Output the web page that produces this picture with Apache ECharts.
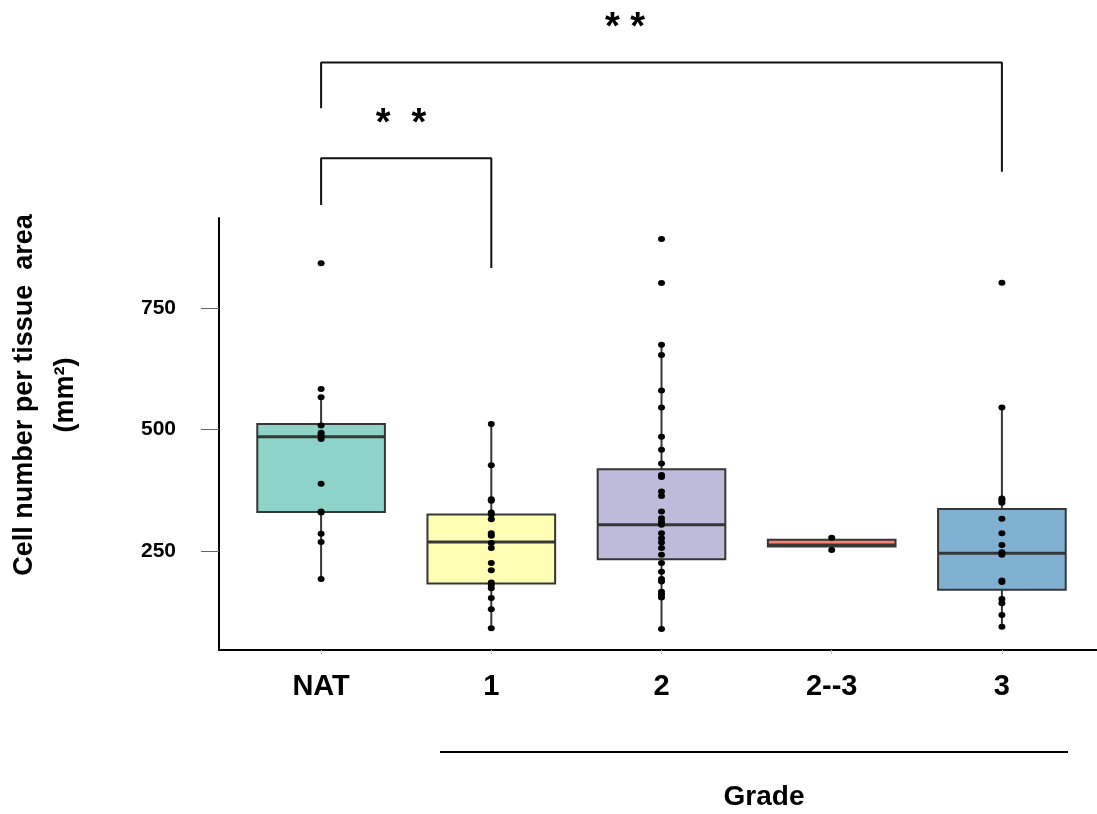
<!DOCTYPE html>
<html>
<head>
<meta charset="utf-8">
<script src="https://cdn.jsdelivr.net/npm/echarts@6/dist/echarts.min.js"></script>
<style>
  html, body { margin: 0; padding: 0; background: #fff; }
  #chart { width: 1097px; height: 814px; }
</style>
</head>
<body>
<div id="chart"></div>
<script>
// categories on the x axis
var categories = ["NAT", "1", "2", "2--3", "3"];

// box statistics
var whiskerLow = [192, 91, 89, 252, 94];
var q1 = [330, 183, 233, 259, 170];
var median = [485, 268, 304, 262, 245];
var q3 = [511, 325, 418, 273, 336];
var whiskerHigh = [567, 511, 674, 277, 545];

// single observations (dots)
var natPoints = [842, 583, 566, 508, 493, 489, 485, 480, 388, 331, 329, 285, 268, 192];
var grade1Points = [511, 426, 356, 353, 329, 325, 315, 286, 281, 266, 256, 225, 210, 185, 180, 173, 153, 130, 91];
var grade2Points = [892, 801, 674, 653, 580, 545, 485, 458, 430, 406, 402, 372, 363, 331, 317, 310, 304, 286, 276, 267, 256, 242, 225, 207, 192, 187, 166, 160, 154, 89];
var grade23Points = [277, 252];
var grade3Points = [802, 545, 358, 354, 349, 316, 286, 262, 247, 242, 189, 186, 151, 142, 118, 94];

// y axis ticks
var yTicks = [250, 500, 750];

// significance brackets: [category index, value]
var bracketInner = [[0, 962], [0, 1058], [1, 1058], [1, 832]];
var bracketOuter = [[0, 1161], [0, 1255], [4, 1255], [4, 1030]];

var boxColors = ["#8DD3C7", "#FFFFB3", "#BEBADA", "#FB8072", "#80B1D3"];
var FONT = "Liberation Sans, Arial, sans-serif";

var boxData = categories.map(function (c, i) {
  return [i, whiskerLow[i], q1[i], median[i], q3[i], whiskerHigh[i]];
});

var allPoints = [natPoints, grade1Points, grade2Points, grade23Points, grade3Points];
var dotData = [];
allPoints.forEach(function (arr, i) {
  arr.forEach(function (v) {
    dotData.push([i, v]);
  });
});

function renderBox(params, api) {
  var x = api.value(0);
  var lo = api.coord([x, api.value(1)]);
  var b1 = api.coord([x, api.value(2)]);
  var med = api.coord([x, api.value(3)]);
  var b3 = api.coord([x, api.value(4)]);
  var hi = api.coord([x, api.value(5)]);
  var half = api.size([1, 0])[0] * 0.375;
  var stroke = "#363636";
  return {
    type: "group",
    children: [
      { type: "line", shape: { x1: lo[0], y1: lo[1], x2: b1[0], y2: b1[1] }, style: { stroke: stroke, lineWidth: 2 } },
      { type: "line", shape: { x1: b3[0], y1: b3[1], x2: hi[0], y2: hi[1] }, style: { stroke: stroke, lineWidth: 2 } },
      {
        type: "rect",
        shape: { x: b3[0] - half, y: b3[1], width: half * 2, height: b1[1] - b3[1] },
        style: { fill: boxColors[params.dataIndex], stroke: stroke, lineWidth: 2 }
      },
      { type: "line", shape: { x1: med[0] - half, y1: med[1], x2: med[0] + half, y2: med[1] }, style: { stroke: stroke, lineWidth: 3 } }
    ]
  };
}

var chart = echarts.init(document.getElementById("chart"));

var option = {
  animation: false,
  backgroundColor: "#fff",
  grid: [
    { left: 236, right: 10, top: 218, bottom: 164 },
    { left: 219, right: 0, top: 218, bottom: 164 }
  ],
  xAxis: [
    {
      type: "category",
      gridIndex: 0,
      data: categories,
      boundaryGap: true,
      axisLine: { show: false },
      axisTick: { show: true, alignWithLabel: true, length: 4, lineStyle: { color: "#bbb" } },
      axisLabel: { margin: 22, color: "#000", fontSize: 29, fontWeight: "bold", fontFamily: FONT },
      splitLine: { show: false }
    },
    {
      type: "value",
      gridIndex: 1,
      min: 0,
      max: 1,
      axisLine: { show: true, lineStyle: { color: "#000", width: 2 } },
      axisTick: { show: false },
      axisLabel: { show: false },
      splitLine: { show: false }
    }
  ],
  yAxis: [
    {
      type: "value",
      gridIndex: 0,
      min: 46,
      max: 935,
      offset: 17,
      axisLine: { show: true, lineStyle: { color: "#000", width: 2 } },
      axisTick: { show: true, length: 18, customValues: yTicks, lineStyle: { color: "#666", width: 1 } },
      axisLabel: { customValues: yTicks, margin: 43, color: "#000", fontSize: 21, fontWeight: "bold", fontFamily: FONT },
      splitLine: { show: false }
    },
    {
      type: "value",
      gridIndex: 1,
      min: 0,
      max: 1,
      show: false
    }
  ],
  series: [
    {
      name: "box",
      type: "custom",
      xAxisIndex: 0,
      yAxisIndex: 0,
      renderItem: renderBox,
      encode: { x: 0, y: [1, 2, 3, 4, 5] },
      data: boxData,
      z: 2
    },
    {
      name: "dots",
      type: "scatter",
      xAxisIndex: 0,
      yAxisIndex: 0,
      symbol: "circle",
      symbolSize: [7, 6],
      itemStyle: { color: "#000", opacity: 1 },
      data: dotData,
      z: 3
    },
    {
      name: "bracketInner",
      type: "line",
      xAxisIndex: 0,
      yAxisIndex: 0,
      clip: false,
      symbol: "none",
      lineStyle: { color: "#111", width: 2 },
      data: bracketInner
    },
    {
      name: "bracketOuter",
      type: "line",
      xAxisIndex: 0,
      yAxisIndex: 0,
      clip: false,
      symbol: "none",
      lineStyle: { color: "#111", width: 2 },
      data: bracketOuter
    }
  ],
  graphic: [
    {
      type: "text",
      x: 25,
      y: 395,
      rotation: Math.PI / 2,
      style: {
        text: "Cell number per tissue  area",
        font: "bold 27px " + FONT,
        fill: "#000",
        align: "center",
        verticalAlign: "middle"
      }
    },
    {
      type: "text",
      x: 66,
      y: 395,
      rotation: Math.PI / 2,
      style: {
        text: "(mm²)",
        font: "bold 27px " + FONT,
        fill: "#000",
        align: "center",
        verticalAlign: "middle"
      }
    },
    {
      type: "text",
      x: 401,
      y: 125,
      style: { text: "*  *", font: "bold 38px " + FONT, fill: "#000", align: "center", verticalAlign: "middle" }
    },
    {
      type: "text",
      x: 625,
      y: 29,
      style: { text: "* *", font: "bold 38px " + FONT, fill: "#000", align: "center", verticalAlign: "middle" }
    },
    {
      type: "line",
      shape: { x1: 440, y1: 752, x2: 1068, y2: 752 },
      style: { stroke: "#000", lineWidth: 2 }
    },
    {
      type: "text",
      x: 764,
      y: 797,
      style: { text: "Grade", font: "bold 28px " + FONT, fill: "#000", align: "center", verticalAlign: "middle" }
    }
  ]
};

chart.setOption(option);
</script>
</body>
</html>
